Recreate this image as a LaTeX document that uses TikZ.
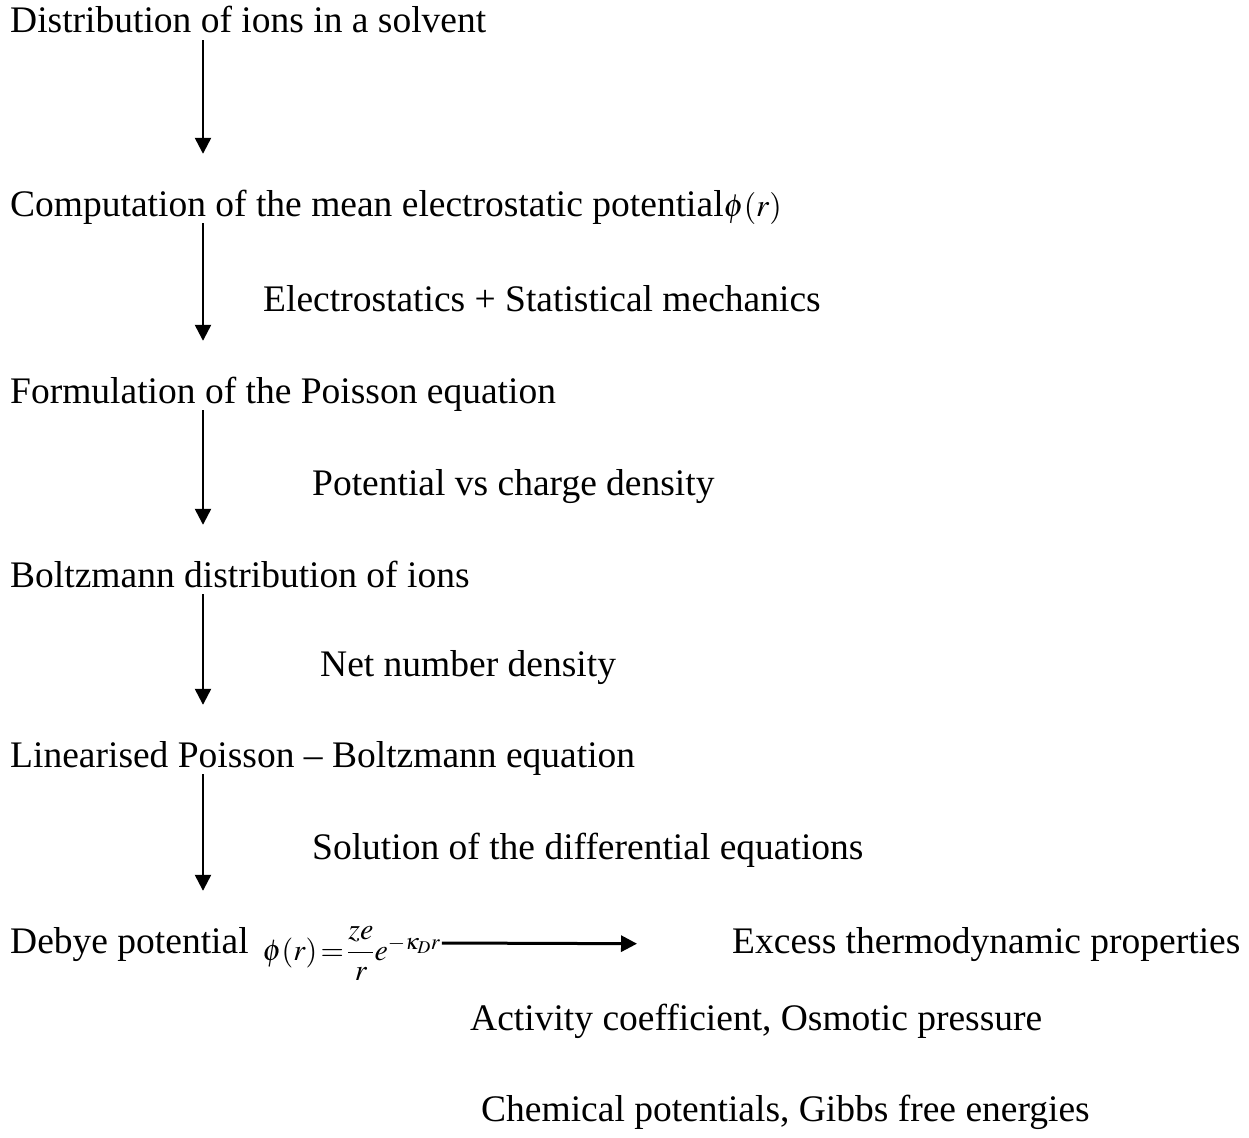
\documentclass[tikz,border=0pt]{standalone}
\usepackage{amsmath}
\usepackage{mathptmx}
\usepackage[no-math]{fontspec}
\setmainfont{Liberation Serif}
\usetikzlibrary{arrows.meta}

\begin{document}
\begin{tikzpicture}[x=1pt,y=-1pt,
        step text/.style={anchor=base west,inner sep=0pt,font=\fontsize{37.5}{45}\selectfont,
            text height=27pt,text depth=7pt},
        side text/.style={anchor=base west,inner sep=0pt,font=\fontsize{37.5}{45}\selectfont},
        flow/.style={line width=2.4pt,-{Triangle[width=16pt,length=16pt]},shorten >=35pt}]

        \useasboundingbox (0,0) rectangle (1249,1137);
        \coordinate (ax) at (203,0);

        \node[step text] (dist) at (10,33) {Distribution of ions in a solvent};
        \node[step text] (comp) at (10,216) {Computation of the mean electrostatic potential{\fontsize{32}{38}\selectfont$\phi(r)$}};
        \node[step text] (pois) at (10,403) {Formulation of the Poisson equation};
        \node[step text] (boltz) at (10,587) {Boltzmann distribution of ions};
        \node[step text] (lin) at (10,767) {Linearised Poisson -- Boltzmann equation};
        \node[step text] (debye) at (10,953) {Debye potential\hspace{14pt}{\fontsize{30}{36}\selectfont\raisebox{-7pt}{$\thickmuskip=2mu\phi(r)=\dfrac{ze}{r}e^{-\kappa_D r}$}}};
        \node[side text] (excess) at (732,953) {Excess thermodynamic properties};

        \node[side text] (elec) at (263,311) {Electrostatics + Statistical mechanics};
        \node[side text] (vs) at (312,495) {Potential vs charge density};
        \node[side text] (net) at (320,676) {Net number density};
        \node[side text] (sol) at (312,859) {Solution of the differential equations};
        \node[side text] (act) at (470,1030) {Activity coefficient, Osmotic pressure};
        \node[side text] (chem) at (481,1121) {Chemical potentials, Gibbs free energies};

        \draw[flow] (dist.south -| ax) -- (comp.north -| ax);
        \draw[flow] (comp.south -| ax) -- (pois.north -| ax);
        \draw[flow] (pois.south -| ax) -- (boltz.north -| ax);
        \draw[flow] (boltz.south -| ax) -- (lin.north -| ax);
        \draw[flow] (lin.south -| ax) -- (debye.north -| ax);
        \draw[flow,line width=3pt,shorten <=1pt,shorten >=95pt] (debye.east) -- (excess.west);
    \end{tikzpicture}
\end{document}
